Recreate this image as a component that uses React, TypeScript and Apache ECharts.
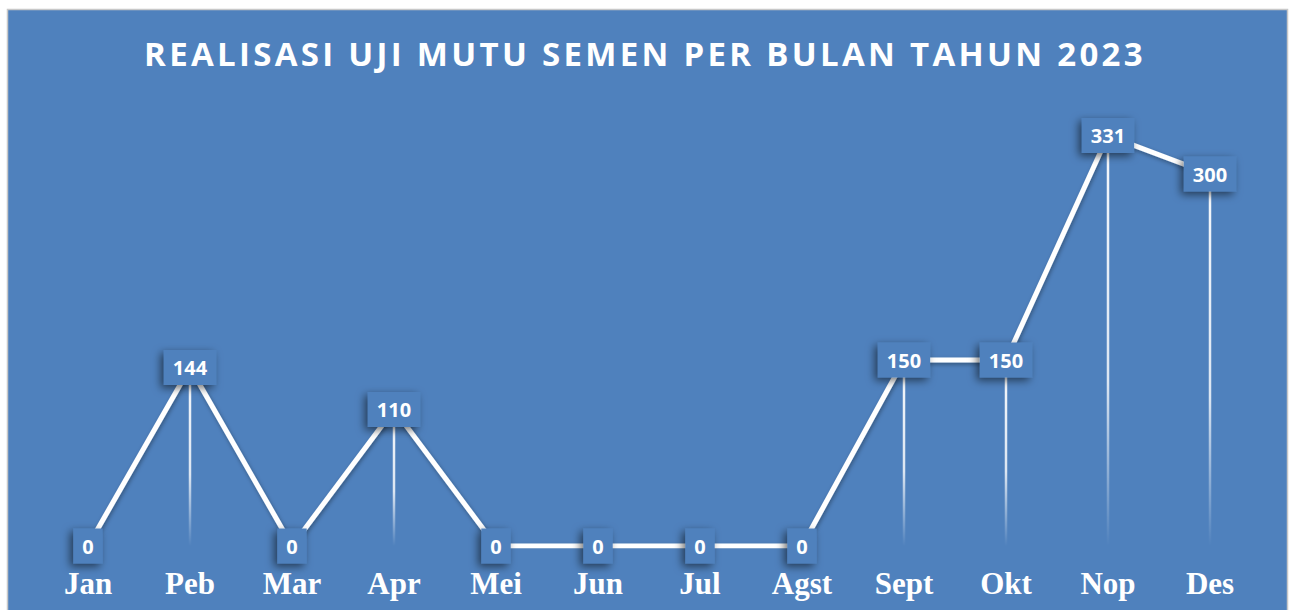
import React, { useEffect, useRef } from "react";
import * as echarts from "echarts";

const months = ["Jan", "Peb", "Mar", "Apr", "Mei", "Jun", "Jul", "Agst", "Sept", "Okt", "Nop", "Des"];
const values = [0, 144, 0, 110, 0, 0, 0, 0, 150, 150, 331, 300];
const titleText = "REALISASI UJI MUTU SEMEN PER BULAN TAHUN 2023";

export default function App() {
  const ref = useRef<HTMLDivElement>(null);
  useEffect(() => {
    if (!ref.current) return;
    const el = ref.current;
    const chart = echarts.init(el, null, { renderer: "svg" });
    const spaceTitle = () => {
      el.querySelectorAll("text").forEach((t) => {
        if (t.textContent === titleText) t.setAttribute("letter-spacing", "3.3");
      });
    };
    chart.on("finished", spaceTitle);
    chart.setOption({
      animation: false,
      backgroundColor: "#ffffff",
      graphic: [
        {
          type: "rect",
          z: -10,
          silent: true,
          shape: { x: 7.5, y: 9.5, width: 1280, height: 610 },
          style: { fill: "#4F81BD", stroke: "#C8C8C8", lineWidth: 1.5 },
        },
      ],
      title: {
        text: titleText,
        left: "center",
        top: 32,
        textStyle: {
          color: "#ffffff",
          fontFamily: "Open Sans",
          fontWeight: "bold",
          fontSize: 33,
        },
      },
      grid: { left: 37, right: 29, top: 112, bottom: 64 },
      xAxis: {
        type: "category",
        data: months,
        boundaryGap: true,
        axisLine: { show: false },
        axisTick: { show: false },
        axisLabel: {
          color: "#ffffff",
          fontFamily: "Liberation Serif",
          fontWeight: "bold",
          fontSize: 31,
          margin: 22,
          interval: 0,
        },
      },
      yAxis: {
        type: "value",
        min: 0,
        max: 350,
        show: false,
        splitLine: { show: false },
      },
      series: [
        {
          type: "bar",
          data: values,
          barWidth: 2.5,
          silent: true,
          z: 1,
          itemStyle: {
            color: new echarts.graphic.LinearGradient(0, 0, 0, 1, [
              { offset: 0, color: "rgba(255,255,255,0.95)" },
              { offset: 0.6, color: "rgba(255,255,255,0.8)" },
              { offset: 1, color: "rgba(255,255,255,0)" },
            ]),
          },
        },
        {
          type: "line",
          data: values,
          z: 3,
          symbol: "circle",
          symbolSize: 1,
          itemStyle: { color: "rgba(0,0,0,0)" },
          lineStyle: {
            color: "#ffffff",
            width: 5,
            shadowColor: "rgba(0,0,0,0.35)",
            shadowBlur: 4,
            shadowOffsetX: 1,
            shadowOffsetY: 2,
          },
          label: {
            show: true,
            position: "inside",
            color: "#ffffff",
            fontFamily: "Open Sans",
            fontWeight: "bold",
            fontSize: 20,
            backgroundColor: "#4F81BD",
            padding: [8, 9, 7, 9],
            shadowColor: "rgba(0,0,0,0.55)",
            shadowBlur: 8,
            shadowOffsetX: -3,
            shadowOffsetY: 3,
          },
        },
      ],
    });
    spaceTitle();
    const raf = requestAnimationFrame(spaceTitle);
    const tm = setTimeout(spaceTitle, 50);
    return () => {
      cancelAnimationFrame(raf);
      clearTimeout(tm);
      chart.dispose();
    };
  }, []);
  return (
    <div
      ref={ref}
      style={{ position: "absolute", left: 0, top: 0, width: 1290, height: 610 }}
    />
  );
}
